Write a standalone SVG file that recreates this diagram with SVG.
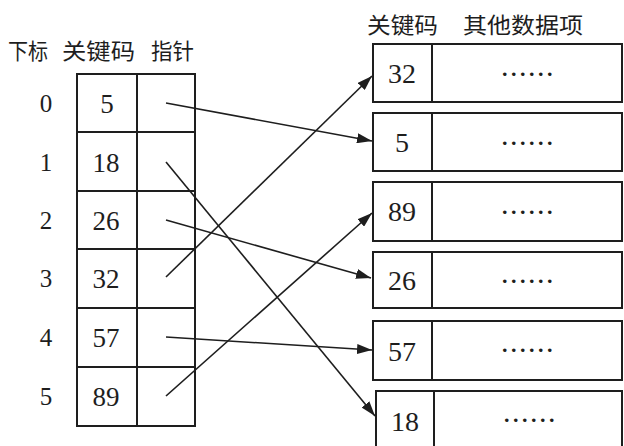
<svg xmlns="http://www.w3.org/2000/svg" width="624" height="446" viewBox="0 0 624 446">
<style>
.box{fill:none;stroke:#1e1e1e;stroke-width:2}
.hdr{font-family:"Noto Sans CJK SC","Noto Sans CJK JP",sans-serif;font-size:22px;fill:#1e1e1e}
.idx{font-family:"Liberation Serif",serif;font-size:25px;fill:#1e1e1e;text-anchor:middle}
.key{font-family:"Liberation Serif",serif;font-size:27px;fill:#1e1e1e;text-anchor:middle}
.rkey{font-family:"Liberation Serif",serif;font-size:28px;fill:#1e1e1e;text-anchor:middle}
.dots{font-family:"Liberation Serif",serif;font-size:22px;font-weight:bold;fill:#1e1e1e;text-anchor:middle;letter-spacing:3.5px}
.arr{fill:none;stroke:#1e1e1e;stroke-width:1.6;marker-end:url(#ah)}
</style>
<defs>
<marker id="ah" markerUnits="userSpaceOnUse" markerWidth="15" markerHeight="10" refX="15" refY="5" orient="auto">
<path d="M0,0 L15,5 L0,10 z" fill="#1e1e1e"/>
</marker>
</defs>
<rect width="624" height="446" fill="#ffffff"/>
<g id="headers">
<text class="hdr" x="8" y="59" textLength="40" lengthAdjust="spacingAndGlyphs">下标</text>
<text class="hdr" x="62" y="59" textLength="73" lengthAdjust="spacingAndGlyphs">关键码</text>
<text class="hdr" x="151" y="59" textLength="43" lengthAdjust="spacingAndGlyphs">指针</text>
<text class="hdr" x="367" y="33" textLength="71" lengthAdjust="spacingAndGlyphs">关键码</text>
<text class="hdr" x="463" y="33" textLength="120" lengthAdjust="spacingAndGlyphs">其他数据项</text>
</g>
<g id="index-table">
<rect class="box" x="77" y="74" width="118" height="352"/>
<line class="box" x1="137" y1="74" x2="137" y2="426"/>
<line class="box" x1="77" y1="132" x2="195" y2="132"/>
<line class="box" x1="77" y1="191" x2="195" y2="191"/>
<line class="box" x1="77" y1="249" x2="195" y2="249"/>
<line class="box" x1="77" y1="308" x2="195" y2="308"/>
<line class="box" x1="77" y1="367" x2="195" y2="367"/>
</g>
<g id="row0"><text class="idx" x="46" y="112">0</text><text class="key" x="107" y="113">5</text></g>
<g id="row1"><text class="idx" x="46" y="171">1</text><text class="key" x="106" y="172">18</text></g>
<g id="row2"><text class="idx" x="46" y="229">2</text><text class="key" x="106" y="230">26</text></g>
<g id="row3"><text class="idx" x="46" y="287">3</text><text class="key" x="106" y="288">32</text></g>
<g id="row4"><text class="idx" x="46" y="346">4</text><text class="key" x="106" y="347">57</text></g>
<g id="row5"><text class="idx" x="46" y="405">5</text><text class="key" x="106" y="406">89</text></g>
<g id="rec32"><rect class="box" x="373" y="44" width="249" height="58"/><line class="box" x1="432" y1="44" x2="432" y2="102"/><text class="rkey" x="402" y="83">32</text><text class="dots" x="529" y="76">......</text></g>
<g id="rec5"><rect class="box" x="373" y="113" width="249" height="58"/><line class="box" x1="432" y1="113" x2="432" y2="171"/><text class="rkey" x="402" y="152">5</text><text class="dots" x="529" y="145">......</text></g>
<g id="rec89"><rect class="box" x="373" y="182" width="249" height="59"/><line class="box" x1="432" y1="182" x2="432" y2="241"/><text class="rkey" x="402" y="221">89</text><text class="dots" x="529" y="214">......</text></g>
<g id="rec26"><rect class="box" x="373" y="252" width="249" height="56"/><line class="box" x1="432" y1="252" x2="432" y2="308"/><text class="rkey" x="402" y="290">26</text><text class="dots" x="529" y="283">......</text></g>
<g id="rec57"><rect class="box" x="373" y="321" width="249" height="59"/><line class="box" x1="432" y1="321" x2="432" y2="380"/><text class="rkey" x="402" y="361">57</text><text class="dots" x="529" y="352">......</text></g>
<g id="rec18"><rect class="box" x="376" y="391" width="246" height="70"/><line class="box" x1="434" y1="391" x2="434" y2="446"/><text class="rkey" x="405" y="431">18</text><text class="dots" x="531" y="422">......</text></g>
<g id="connectors">
<line class="arr" x1="166" y1="103" x2="372" y2="141"/>
<line class="arr" x1="166" y1="162" x2="375" y2="416"/>
<line class="arr" x1="166" y1="220" x2="371" y2="278"/>
<line class="arr" x1="166" y1="277" x2="372" y2="76"/>
<line class="arr" x1="166" y1="337" x2="372" y2="350"/>
<line class="arr" x1="166" y1="396" x2="372" y2="213"/>
</g>
</svg>
